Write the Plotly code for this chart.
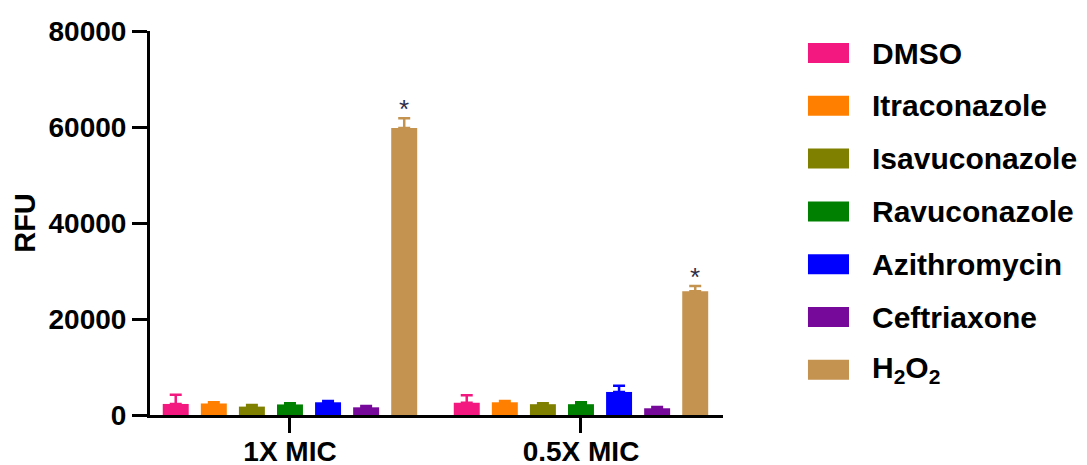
import plotly.graph_objects as go

# ---- data ----
categories = ["1X MIC", "0.5X MIC"]
series_names = ["DMSO", "Itraconazole", "Isavuconazole", "Ravuconazole",
                "Azithromycin", "Ceftriaxone", "H<sub>2</sub>O<sub>2</sub>"]
dmso = [2300, 2550]
itraconazole = [2400, 2650]
isavuconazole = [1750, 2250]
ravuconazole = [2200, 2250]
azithromycin = [2650, 4800]
ceftriaxone = [1600, 1400]
h2o2 = [59800, 25800]
means = [dmso, itraconazole, isavuconazole, ravuconazole, azithromycin, ceftriaxone, h2o2]

dmso_err = [1900, 1550]
itraconazole_err = [250, 250]
isavuconazole_err = [350, 200]
ravuconazole_err = [250, 400]
azithromycin_err = [280, 1300]
ceftriaxone_err = [250, 250]
h2o2_err = [2000, 1100]
errors = [dmso_err, itraconazole_err, isavuconazole_err, ravuconazole_err,
          azithromycin_err, ceftriaxone_err, h2o2_err]

significance = ["*", "*"]
y_ticks = [0, 20000, 40000, 60000, 80000]

# ---- style ----
colors = ["#F2187F", "#FF8000", "#808000", "#008000", "#0000FF", "#76089A", "#C49350"]
FONT = "Arial, Liberation Sans, Helvetica, sans-serif"
BARGAP = 0.084
BARGROUPGAP = 0.318

fig = go.Figure()
xs = list(range(len(categories)))
for name, m, e, c in zip(series_names, means, errors, colors):
    fig.add_trace(go.Bar(
        x=xs, y=m, name=name,
        marker=dict(color=c, line=dict(width=0)),
        error_y=dict(type="data", symmetric=False, array=e,
                     arrayminus=[0] * len(e), color=c, thickness=2.5, width=6),
        showlegend=False,
    ))

# significance stars above the H2O2 bars
n_series = len(series_names)
pitch = (1 - BARGAP) / n_series
h2o2_offset = (n_series - 1 - (n_series - 1) / 2) * pitch
for i, s in enumerate(significance):
    fig.add_annotation(
        x=xs[i] + h2o2_offset, y=h2o2[i] + h2o2_err[i],
        xref="x", yref="y", text=s, showarrow=False, yanchor="bottom", yshift=-8,
        font=dict(family=FONT, size=26, color="#2E2E48"),
    )

# custom legend (large swatches)
row0 = 0.9427
row_step = 0.1375
for i, (name, c) in enumerate(zip(series_names, colors)):
    yc = row0 - i * row_step
    fig.add_shape(type="rect", xref="paper", yref="paper",
                  x0=1.1483, x1=1.2199, y0=yc - 0.026, y1=yc + 0.026,
                  fillcolor=c, line=dict(width=0))
    fig.add_annotation(xref="paper", yref="paper", x=1.2565, y=yc,
                       xanchor="left", yanchor="middle", text=name, showarrow=False,
                       font=dict(family=FONT, size=30, color="black", weight="bold"))

# page body has an 8px margin, so the figure is sized to fit inside the window
fig.update_layout(
    width=1079, height=457,
    margin=dict(l=142, r=364, t=23, b=50, autoexpand=False),
    paper_bgcolor="white", plot_bgcolor="white",
    barmode="group", bargap=BARGAP, bargroupgap=BARGROUPGAP,
    font=dict(family=FONT, color="black"),
)
fig.update_xaxes(
    range=[-0.481, 1.488], tickvals=xs, ticktext=categories,
    showline=True, linecolor="black", linewidth=3,
    ticks="outside", ticklen=15, tickwidth=3, tickcolor="black",
    ticklabelstandoff=-6,
    tickfont=dict(family=FONT, size=28, color="black", weight="bold"),
    showgrid=False, zeroline=False, automargin=False,
)
fig.update_yaxes(
    range=[0, 80000], tickvals=y_ticks, tickformat="d",
    showline=True, linecolor="black", linewidth=3,
    ticks="outside", ticklen=15, tickwidth=3, tickcolor="black",
    tickfont=dict(family=FONT, size=28, color="black", weight="bold"),
    title=dict(text="RFU", font=dict(family=FONT, size=29, color="black", weight="bold"), standoff=5),
    showgrid=False, zeroline=False, automargin=False,
)

fig.write_html("out.html")
